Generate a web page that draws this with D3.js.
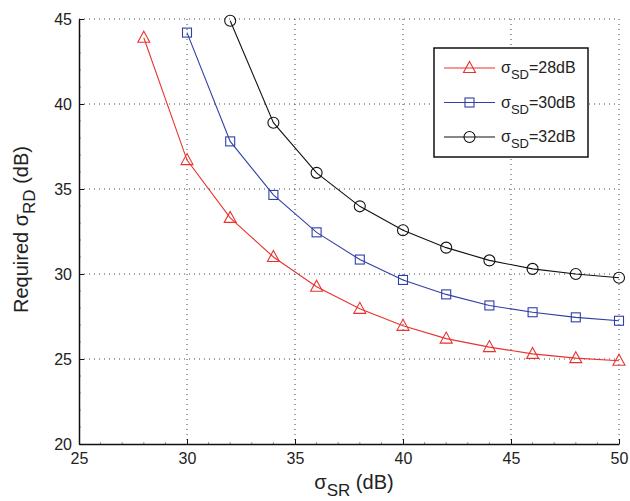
<!DOCTYPE html>
<html>
<head>
<meta charset="utf-8">
<script src="https://cdn.jsdelivr.net/npm/d3@7"></script>
<style>
  body { margin: 0; background: #fff; }
  text { font-family: "Liberation Sans", Arial, Helvetica, sans-serif; fill: #222; }
</style>
</head>
<body>
<div id="chart"></div>
<script>
var xValues = [28, 30, 32, 34, 36, 38, 40, 42, 44, 46, 48, 50]
var sd28 = [43.9, 36.7, 33.3, 31.0, 29.25, 27.95, 26.95, 26.2, 25.7, 25.3, 25.05, 24.9]
var sd30 = [null, 44.2, 37.8, 34.65, 32.45, 30.85, 29.65, 28.8, 28.15, 27.75, 27.45, 27.25]
var sd32 = [null, null, 44.9, 38.9, 35.95, 33.98, 32.57, 31.55, 30.8, 30.3, 30.0, 29.78]
var seriesNames = ["28dB", "30dB", "32dB"]
var xTicks = [25, 30, 35, 40, 45, 50]
var yTicks = [20, 25, 30, 35, 40, 45]

function drawChart() {
  var dimensions = {
    width: 630,
    height: 501,
    margin: { top: 19, right: 11, bottom: 57, left: 79 }
  }
  dimensions.boundedWidth = dimensions.width - dimensions.margin.left - dimensions.margin.right
  dimensions.boundedHeight = dimensions.height - dimensions.margin.top - dimensions.margin.bottom

  var series = [
    { name: seriesNames[0], values: sd28, color: "#e8332e", marker: "triangle" },
    { name: seriesNames[1], values: sd30, color: "#2f3fa8", marker: "square" },
    { name: seriesNames[2], values: sd32, color: "#111111", marker: "circle" }
  ]

  var wrapper = d3.select("#chart")
    .append("svg")
    .attr("width", dimensions.width)
    .attr("height", dimensions.height)

  var bounds = wrapper.append("g")
    .attr("transform", `translate(${dimensions.margin.left},${dimensions.margin.top})`)

  var xScale = d3.scaleLinear()
    .domain([25, 50])
    .range([0, dimensions.boundedWidth])

  var yScale = d3.scaleLinear()
    .domain([20, 45])
    .range([dimensions.boundedHeight, 0])

  // dotted grid
  bounds.append("g")
    .selectAll("line")
    .data(xTicks.slice(1))
    .join("line")
    .attr("x1", d => xScale(d)).attr("x2", d => xScale(d))
    .attr("y1", 0).attr("y2", dimensions.boundedHeight)
    .attr("stroke", "#444").attr("stroke-width", 1)
    .attr("stroke-dasharray", "1,4")

  bounds.append("g")
    .selectAll("line")
    .data(yTicks.slice(1))
    .join("line")
    .attr("x1", 0).attr("x2", dimensions.boundedWidth)
    .attr("y1", d => yScale(d)).attr("y2", d => yScale(d))
    .attr("stroke", "#444").attr("stroke-width", 1)
    .attr("stroke-dasharray", "1,4")

  // minor ticks
  var minorX = d3.range(25, 51, 1).filter(v => v % 5 != 0)
  var minorY = d3.range(20, 46, 1).filter(v => v % 5 != 0)
  bounds.append("g")
    .selectAll("line")
    .data(minorX)
    .join("line")
    .attr("x1", d => xScale(d)).attr("x2", d => xScale(d))
    .attr("y1", dimensions.boundedHeight).attr("y2", dimensions.boundedHeight - 2)
    .attr("stroke", "#999")
  bounds.append("g")
    .selectAll("line")
    .data(minorY)
    .join("line")
    .attr("x1", 0).attr("x2", 2)
    .attr("y1", d => yScale(d)).attr("y2", d => yScale(d))
    .attr("stroke", "#999")

  // axes
  var xAxisGenerator = d3.axisBottom(xScale)
    .tickValues(xTicks)
    .tickSizeInner(-5)
    .tickSizeOuter(0)
    .tickPadding(9)

  var yAxisGenerator = d3.axisLeft(yScale)
    .tickValues(yTicks)
    .tickSizeInner(-5)
    .tickSizeOuter(0)
    .tickPadding(7)

  var xAxis = bounds.append("g")
    .attr("transform", `translate(0,${dimensions.boundedHeight})`)
    .call(xAxisGenerator)
  xAxis.select(".domain").attr("stroke", "#111").attr("stroke-width", 1.5)
  xAxis.selectAll(".tick line").attr("stroke", "#111")
  xAxis.selectAll("text").style("font-size", "16px").style("fill", "#222")
    .style("font-family", "Liberation Sans, Arial, sans-serif")

  var yAxis = bounds.append("g")
    .call(yAxisGenerator)
  yAxis.select(".domain").attr("stroke", "#111").attr("stroke-width", 1.5)
  yAxis.selectAll(".tick line").attr("stroke", "#111")
  yAxis.selectAll("text").style("font-size", "16px").style("fill", "#222")
    .style("font-family", "Liberation Sans, Arial, sans-serif")

  // lines
  var lineGenerator = d3.line()
    .defined(d => d[1] != null)
    .x(d => xScale(d[0]))
    .y(d => yScale(d[1]))

  function drawMarker(g, type, color) {
    if (type == "triangle") {
      g.append("path").attr("d", "M0,-6.5 L6,4.5 L-6,4.5 Z")
    } else if (type == "square") {
      g.append("rect").attr("x", -4.5).attr("y", -4.5).attr("width", 9).attr("height", 9)
    } else {
      g.append("circle").attr("r", 5.5)
    }
    g.selectAll("*").attr("fill", "none").attr("stroke", color).attr("stroke-width", 1.1)
  }

  series.forEach(s => {
    var pts = xValues.map((x, i) => [x, s.values[i]]).filter(p => p[1] != null)
    bounds.append("path")
      .datum(pts)
      .attr("d", lineGenerator)
      .attr("fill", "none")
      .attr("stroke", s.color)
      .attr("stroke-width", 1.1)

    bounds.append("g")
      .selectAll("g")
      .data(pts)
      .join("g")
      .attr("transform", d => `translate(${xScale(d[0])},${yScale(d[1])})`)
      .each(function() { drawMarker(d3.select(this), s.marker, s.color) })
  })

  // legend
  var legend = wrapper.append("g")
    .attr("transform", "translate(434,48)")
  legend.append("rect")
    .attr("width", 154).attr("height", 109)
    .attr("fill", "#fff").attr("stroke", "#111").attr("stroke-width", 1.5)

  series.forEach((s, i) => {
    var row = legend.append("g").attr("transform", `translate(0,${20 + i * 34.5})`)
    row.append("line")
      .attr("x1", 10).attr("x2", 61)
      .attr("stroke", s.color).attr("stroke-width", 1.1)
    drawMarker(row.append("g").attr("transform", "translate(35.5,0)"), s.marker, s.color)
    var t = row.append("text")
      .attr("x", 67).attr("y", 5)
      .style("font-size", "16px")
    t.append("tspan").text("σ")
    t.append("tspan").attr("dy", 6).style("font-size", "13px").text("SD")
    t.append("tspan").attr("dy", -6).text("=" + s.name)
  })

  // axis labels
  var xLabel = wrapper.append("text")
    .attr("x", dimensions.margin.left + xScale(37.5) + 5)
    .attr("y", 489)
    .attr("text-anchor", "middle")
    .style("font-size", "20px")
  xLabel.append("tspan").text("σ")
  xLabel.append("tspan").attr("dy", 7).style("font-size", "17px").text("SR")
  xLabel.append("tspan").attr("dy", -7).text(" (dB)")

  var yLabel = wrapper.append("text")
    .attr("transform", `translate(28,${dimensions.margin.top + yScale(32.5) - 2}) rotate(-90)`)
    .attr("text-anchor", "middle")
    .style("font-size", "20px")
  yLabel.append("tspan").text("Required σ")
  yLabel.append("tspan").attr("dy", 7).style("font-size", "17px").text("RD")
  yLabel.append("tspan").attr("dy", -7).text(" (dB)")
}

drawChart()
</script>
</body>
</html>
